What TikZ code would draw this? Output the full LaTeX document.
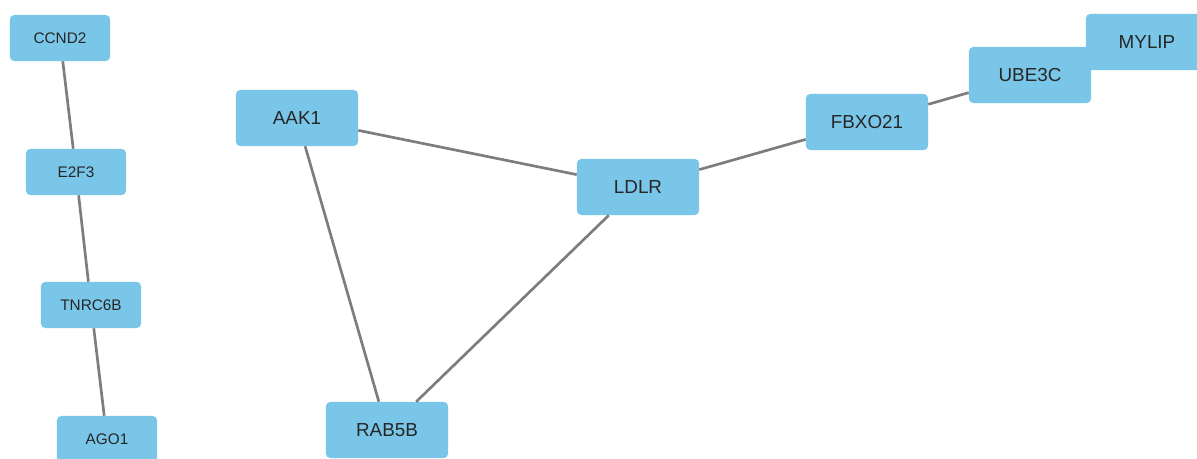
\documentclass[tikz,border=0pt]{standalone}
\usepackage{fontspec}
\setmainfont{Liberation Sans}
\definecolor{geneblue}{RGB}{122,198,233}
\definecolor{linkgray}{RGB}{125,125,125}
\tikzset{gene/.style={rectangle,rounded corners=3pt,fill=geneblue,minimum width=3.05cm,minimum height=1.4cm,inner sep=0pt,text=black!85,font=\fontsize{13.4}{16}\selectfont}}
\tikzset{small/.style={gene,minimum width=2.5cm,minimum height=1.15cm,font=\fontsize{10.9}{13}\selectfont}}
\tikzset{link/.style={draw=linkgray,line width=1.9pt}}

\begin{document}
\begin{tikzpicture}[x=0.025cm,y=-0.025cm]
            \clip (0,0) rectangle (1197,459);
            \node [small] (ccnd) at (60,38) {CCND2};
            \node [small] (etwo) at (76,172) {E2F3};
            \node [small] (tnrc) at (91,305) {TNRC6B};
            \node [small] (ago) at (107,439) {AGO1};
            \node [gene] (aak) at (297,118) {AAK1};
            \node [gene] (rab) at (387,430) {RAB5B};
            \node [gene] (ldlr) at (638,187) {LDLR};
            \node [gene] (fbxo) at (867,122) {FBXO21};
            \node [gene] (mylip) at (1147,42) {MYLIP};
            \node [gene] (ube) at (1030,75) {UBE3C};
            \draw[link] (ccnd) -- (etwo) -- (tnrc) -- (ago);
            \draw[link] (aak) -- (ldlr) -- (rab) -- (aak);
            \draw[link] (ldlr) -- (fbxo) -- (ube);
        \end{tikzpicture}
\end{document}
